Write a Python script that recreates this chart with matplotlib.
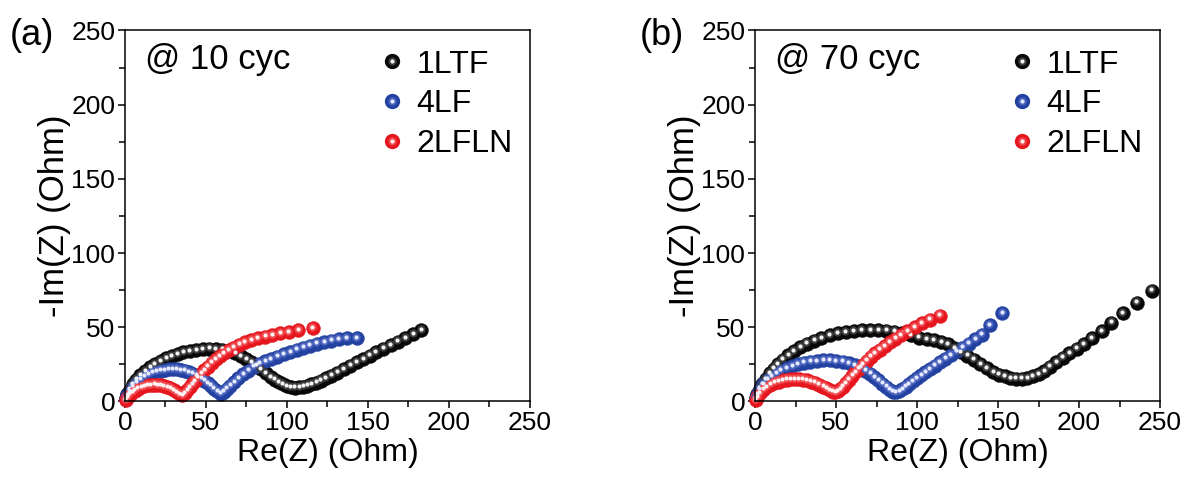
import matplotlib
matplotlib.use("Agg")
import matplotlib.pyplot as plt
from matplotlib.lines import Line2D
from matplotlib.legend_handler import HandlerTuple
from matplotlib.ticker import MultipleLocator
from matplotlib.transforms import offset_copy

plt.rcParams['font.family'] = ['Liberation Sans', 'DejaVu Sans']

# ---- panel (a): @ 10 cyc ----
a_ltf_x = [0.5, 1.5, 3, 5, 7, 9.5, 12.5, 15.5, 18.5, 22, 25.5, 29, 32.5, 36, 40, 44, 48, 52, 56, 60,
           64, 68, 71.5, 75, 78, 81, 84, 87, 90, 92.5, 95, 97.5, 100, 102.5, 105, 107.5, 110, 112.5,
           115, 118, 121, 124, 127.5, 131, 135, 139, 143, 147, 151, 155, 159.5, 164, 168.5, 173, 178, 183]
a_ltf_y = [2, 5, 8, 11.5, 14.5, 17.5, 20.5, 23, 25, 27, 29, 30.5, 31.8, 33, 34, 34.7, 35.2, 35.4, 35.3, 34.8,
           33.8, 32.3, 30.5, 28.5, 26.3, 24, 21.5, 19, 16.5, 14.5, 12.8, 11.4, 10.3, 9.6, 9.3, 9.4, 9.9, 10.6,
           11.5, 12.7, 14, 15.5, 17.3, 19.3, 21.6, 24, 26.3, 28.5, 30.8, 33, 35.4, 37.8, 40.2, 42.6, 45.2, 47.8]

a_lf_x = [0.5, 1.5, 3, 5, 7, 9.5, 12, 14.5, 17, 19.5, 22, 24.5, 27, 29.5, 32, 34.5, 37, 39.5, 42, 44.5,
          47, 49, 51, 53, 55, 57, 59, 61, 63, 65, 67.5, 70, 73, 76, 79.5, 83, 86.5, 90, 94, 98,
          102, 106, 110, 114, 118.5, 123, 127.5, 132, 137, 143]
a_lf_y = [1.5, 4, 7, 10, 12.5, 15, 16.8, 18.2, 19.3, 20.2, 20.8, 21.2, 21.5, 21.6, 21.5, 21.2, 20.6, 19.8, 18.7, 17.3,
          15.6, 14, 12.3, 10.5, 8.6, 6.8, 5.2, 6.5, 8.5, 10.5, 13, 15.5, 18.3, 20.8, 23.3, 25.3, 27, 28.5, 30.2, 31.8,
          33.3, 34.8, 36.2, 37.5, 38.8, 40, 41, 41.8, 42.4, 42.5]

a_lfln_x = [0.5, 1.5, 3, 4.5, 6, 8, 10, 12, 14, 16, 18, 20, 22, 24, 26, 28, 30, 32, 34, 35.5,
            37, 38.5, 40, 41.5, 43, 45, 47, 49, 51, 53.5, 56, 58.5, 61, 64, 67, 70.5, 74, 78, 82, 86.5,
            91, 96, 101, 107, 116]
a_lfln_y = [0.8, 2.5, 4.5, 6, 7.3, 8.6, 9.6, 10.3, 10.8, 11.1, 11.2, 11.1, 10.8, 10.3, 9.6, 8.7, 7.6, 6.4, 5, 4,
            5.5, 7.5, 9.5, 11.5, 13.5, 16, 18.7, 21.2, 23.5, 26, 28.3, 30.5, 32.5, 34.5, 36.3, 38.1, 39.7, 41.2, 42.5, 43.7,
            44.8, 45.8, 46.8, 48, 49.5]

# ---- panel (b): @ 70 cyc ----
b_ltf_x = [0.5, 1.5, 3, 4.5, 6.5, 9, 11.5, 14, 17, 20.5, 24, 28, 32, 36.5, 41, 46, 51, 56, 61, 66,
           71, 76, 81, 86, 91, 96, 101, 106, 110.5, 115, 119, 123, 127, 131, 135, 139, 143, 147, 150.5, 154,
           157.5, 161, 164.5, 168, 171.5, 175, 178.5, 182, 186, 190, 194, 198.5, 203, 208, 214, 220, 227, 235.5, 245]
b_ltf_y = [2, 5, 8.5, 11.5, 15, 19, 22, 25, 28, 31, 33.8, 36.5, 38.8, 41, 42.8, 44.5, 45.8, 46.8, 47.5, 47.9,
           48, 47.9, 47.6, 47, 46, 44.5, 43, 42, 41.2, 40, 38.5, 36, 33.2, 30.8, 28, 25.2, 22.2, 19.8, 18, 16.8,
           15.8, 15.3, 15.3, 15.8, 16.8, 18.4, 20.5, 23.4, 26.5, 29.5, 32.5, 35.5, 38.5, 42.5, 47.5, 53, 59.5, 66.5, 74.5]

b_lf_x = [0.5, 1.5, 3, 5, 7.5, 10, 13, 16, 19.5, 23, 26.5, 30, 34, 38, 42, 46, 50, 54, 58, 61.5,
          65, 68, 71, 73.5, 76, 78.5, 81, 83, 85, 87, 89, 91, 93, 95, 97.5, 100, 102.5, 105, 108, 111,
          114, 117.5, 121, 124.5, 128, 132, 136, 140, 145, 152.5]
b_lf_y = [2, 4.5, 8, 11.5, 14.5, 17, 19, 20.8, 22.4, 23.8, 25, 26, 26.8, 27.3, 27.6, 27.6, 27.3, 26.7, 25.7, 24.4,
          22.7, 20.8, 18.6, 16.5, 14.2, 12, 9.8, 8, 6.5, 6, 6.8, 8.2, 9.8, 11.5, 13.5, 15.5, 17.5, 19.5, 21.8, 24,
          26.3, 28.8, 31.3, 33.8, 36.2, 39, 41.8, 45, 51.3, 59.5]

b_lfln_x = [0.5, 1.5, 3, 5, 7, 9.5, 12, 14.5, 17, 19.5, 22, 24.5, 27, 29.5, 32, 34.5, 37, 39.5, 42, 44,
            46, 48, 49.5, 51, 52.5, 54, 56, 58, 60, 62, 64, 66.5, 69, 71.5, 74, 77, 80, 83, 86.5, 90,
            94, 98.5, 103, 108, 114]
b_lfln_y = [1, 3, 5.5, 7.8, 9.6, 11.2, 12.5, 13.4, 14.1, 14.6, 14.9, 15, 14.9, 14.6, 14.1, 13.4, 12.5, 11.3, 10, 8.8,
            7.5, 6.5, 6, 6.8, 8.2, 9.8, 12.2, 14.7, 17.2, 19.6, 22, 24.8, 27.5, 30, 32.3, 34.8, 37.3, 39.8, 42.3, 44.8,
            47.3, 50, 52.5, 55, 57.8]

names = ['1LTF', '4LF', '2LFLN']
# base, soft mid tone, highlight of each "sphere"
colors = [('#080808', '#3c3c3c', '#f4f4f4'),
          ('#2241a0', '#4a64bd', '#e6eaff'),
          ('#e5161e', '#f0474d', '#fff2f2')]
MS = 10.0
panels = [
    ('(a)', '@ 10 cyc', [(a_ltf_x, a_ltf_y), (a_lf_x, a_lf_y), (a_lfln_x, a_lfln_y)]),
    ('(b)', '@ 70 cyc', [(b_ltf_x, b_ltf_y), (b_lf_x, b_lf_y), (b_lfln_x, b_lfln_y)]),
]

fig = plt.figure(figsize=(11.9, 4.79), dpi=100)
lefts = [0.105, 0.6345]

for k, (tag, cyc, series) in enumerate(panels):
    ax = fig.add_axes([lefts[k], 0.162, 0.3403, 0.7745])
    hi_tr = offset_copy(ax.transData, fig=fig, x=-0.4, y=1.0, units='points')
    z = 2
    for (xs, ys), (c0, c1, c2) in zip(series, colors):
        # draw each sphere completely so later ones cover earlier ones
        for x, y in zip(xs, ys):
            ax.plot(x, y, 'o', ms=MS, mfc=c0, mec=c0, mew=0.3, zorder=z, clip_on=False)
            ax.plot(x, y, 'o', ms=6.0, mfc=c1, mec='none', zorder=z + 0.1, clip_on=False,
                    transform=hi_tr)
            ax.plot(x, y, 'o', ms=3.0, mfc=c2, mec='none', zorder=z + 0.2, clip_on=False,
                    transform=hi_tr)
            z += 0.001

    ax.set_xlim(0, 250)
    ax.set_ylim(0, 250)
    ax.xaxis.set_major_locator(MultipleLocator(50))
    ax.yaxis.set_major_locator(MultipleLocator(50))
    ax.xaxis.set_minor_locator(MultipleLocator(25))
    ax.yaxis.set_minor_locator(MultipleLocator(25))
    ax.tick_params(which='major', direction='out', length=5, width=1.1, labelsize=19, pad=2)
    ax.tick_params(which='minor', direction='out', length=4, width=1.1)
    for s in ax.spines.values():
        s.set_linewidth(1.1)
    ax.set_xlabel('Re(Z) (Ohm)', fontsize=23, labelpad=2)
    ax.set_ylabel('-Im(Z) (Ohm)', fontsize=25, labelpad=0)

    ax.text(0.05, 0.965, cyc, transform=ax.transAxes, fontsize=25, va='top', ha='left')
    fig.text(lefts[k] - 0.097, 0.925, tag, fontsize=26, va='center', ha='left')

    handles = []
    for c0, c1, c2 in colors:
        handles.append((Line2D([], [], ls='none', marker='o', ms=MS, mfc=c0, mec=c0),
                        Line2D([], [], ls='none', marker='o', ms=6.0, mfc=c1, mec='none'),
                        Line2D([], [], ls='none', marker='o', ms=3.0, mfc=c2, mec='none')))
    ax.legend(handles, names, handler_map={tuple: HandlerTuple(ndivide=1)},
              loc='upper left', bbox_to_anchor=(0.585, 1.0), frameon=False, fontsize=23,
              handlelength=0.7, handletextpad=0.4, labelspacing=0.3, borderaxespad=0.2)

fig.savefig('out.png', dpi=100)
